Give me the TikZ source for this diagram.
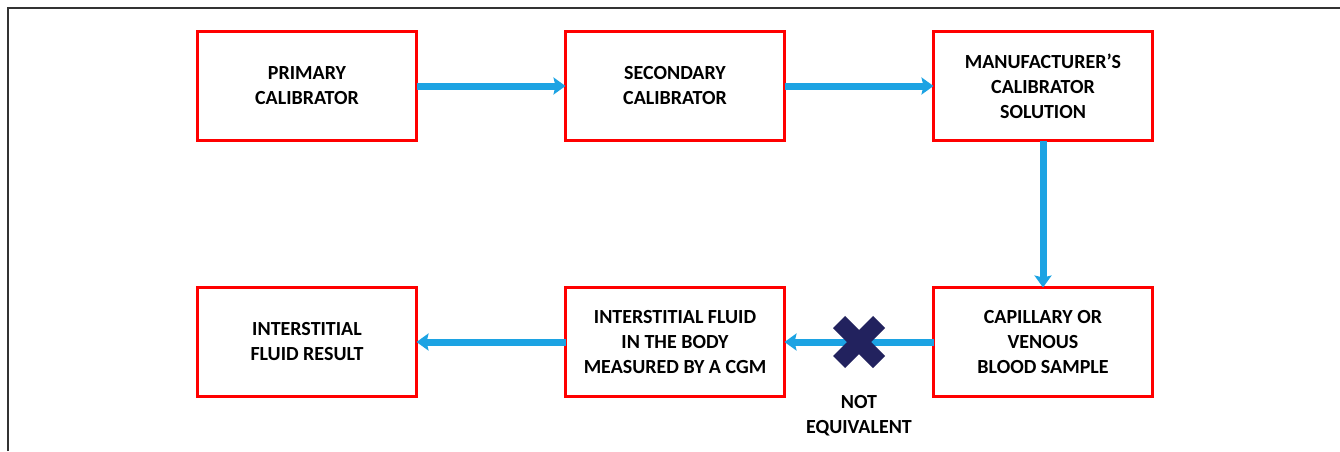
\documentclass[tikz,border=0pt]{standalone}
\usepackage{fontspec}
\setmainfont{Carlito}
\usepackage{tikz}
\usetikzlibrary{arrows.meta,positioning,shapes.misc,calc}
\definecolor{flowblue}{HTML}{1CA3E3}
\definecolor{boxred}{HTML}{FF0000}
\definecolor{crossnavy}{HTML}{22225E}
\tikzset{
  treetext/.style = {align=center, font=\fontsize{20pt}{25pt}\selectfont\bfseries,
    text=black},
  cal_box/.style = {treetext, rectangle, draw=boxred, fill=white, line width=3pt,
    minimum width=219pt, minimum height=109pt, outer sep=0pt},% boite rouge
  cal_x/.style = {cross out, draw=crossnavy, line width=17pt, minimum size=40pt,
    inner sep=0pt, outer sep=0pt}% croix bleu nuit
}

\begin{document}
\begin{tikzpicture}[x=1pt,y=-1pt,>={Stealth[length=12pt,width=17pt,inset=2pt]},
  flow/.style={->, draw=flowblue, line width=7pt}]
\useasboundingbox (0,0) rectangle (1340,451);
\draw [line width=1.8pt, black!80] (8,451) -- (8,8) -- (1340,8);
\node [cal_box] (prim) at (307,86) {PRIMARY\\CALIBRATOR};
\node [cal_box, right=149pt of prim] (sec) {SECONDARY\\CALIBRATOR};
\node [cal_box, right=149pt of sec] (manu) {MANUFACTURER’S\\CALIBRATOR\\SOLUTION};
\node [cal_box, below=147pt of manu] (blood) {CAPILLARY OR\\VENOUS\\BLOOD SAMPLE};
\node [cal_box, left=149pt of blood] (isf) {INTERSTITIAL FLUID\\IN THE BODY\\MEASURED BY A CGM};
\node [cal_box, left=149pt of isf] (res) {INTERSTITIAL\\FLUID RESULT};
\draw [flow] (prim) -- (sec);
\draw [flow] (sec) -- (manu);
\draw [flow] (manu) -- (blood);
\draw [flow] (blood) -- (isf);
\draw [flow] (isf) -- (res);
\node [cal_x] (notx) at ($(isf.east)!0.5!(blood.west)$) {};
\node [treetext, below=30pt of notx] (noteq) {NOT\\EQUIVALENT};
\end{tikzpicture}
\end{document}
